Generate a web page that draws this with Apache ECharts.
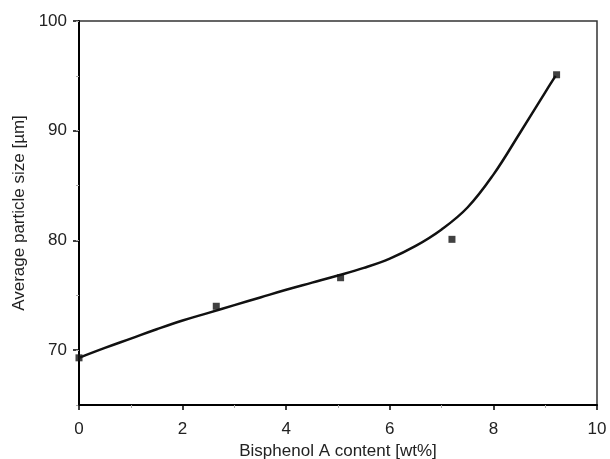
<!DOCTYPE html>
<html>
<head>
<meta charset="utf-8">
<script src="https://cdn.jsdelivr.net/npm/echarts@6/dist/echarts.min.js"></script>
<style>
  html, body { margin: 0; padding: 0; background: #fff; }
  #chart { width: 610px; height: 459px; }
</style>
</head>
<body>
<div id="chart"></div>
<script>
  // measured points (squares)
  const pointX = [0, 2.65, 5.05, 7.2, 9.22]
  const pointY = [69.3, 74.0, 76.6, 80.1, 95.1]
  // fitted curve
  const curveX = [0, 0.5, 1, 1.5, 2, 2.5, 3, 3.5, 4, 4.5, 5, 5.5, 6, 6.5, 7, 7.5, 8, 8.5, 9, 9.2]
  const curveY = [69.3, 70.2, 71.05, 71.9, 72.7, 73.4, 74.1, 74.8, 75.5, 76.15, 76.8, 77.5, 78.35, 79.5, 81.0, 83.0, 86.0, 89.7, 93.5, 95.0]
  const yTicks = [70, 80, 90, 100]

  const font = 'Liberation Sans'
  const chart = echarts.init(document.getElementById('chart'))

  chart.setOption({
    animation: false,
    grid: {
      left: 79, right: 13, top: 21, bottom: 54,
      outerBoundsMode: 'none',
      show: true,
      borderColor: '#333',
      borderWidth: 1.5
    },
    xAxis: {
      type: 'value',
      min: 0,
      max: 10,
      interval: 2,
      name: 'Bisphenol A content [wt%]',
      nameLocation: 'middle',
      nameGap: 37,
      nameTextStyle: { fontFamily: font, fontSize: 17, color: '#222' },
      axisLine: { lineStyle: { color: '#000', width: 2 } },
      axisTick: { length: 5, lineStyle: { color: '#000', width: 1.5 } },
      minorTick: { show: true, splitNumber: 2, length: 3, lineStyle: { color: '#aaa' } },
      axisLabel: { fontFamily: font, fontSize: 17, color: '#222', margin: 16 },
      splitLine: { show: false }
    },
    yAxis: [
      {
        type: 'value',
        min: 65,
        max: 100,
        interval: 5,
        name: 'Average particle size [µm]',
        nameLocation: 'middle',
        nameGap: 43,
        nameTextStyle: { fontFamily: font, fontSize: 17, color: '#222' },
        axisLine: { lineStyle: { color: '#000', width: 2 } },
        axisTick: { customValues: yTicks, length: 6, lineStyle: { color: '#000', width: 1.5 } },
        axisLabel: { customValues: yTicks, fontFamily: font, fontSize: 17, color: '#222', margin: 12 },
        splitLine: { show: false }
      },
      {
        type: 'value',
        min: 65,
        max: 100,
        interval: 5,
        position: 'left',
        axisLine: { show: false },
        axisTick: { length: 3, lineStyle: { color: '#aaa' } },
        axisLabel: { show: false },
        splitLine: { show: false }
      }
    ],
    series: [
      {
        name: 'fit',
        type: 'line',
        smooth: 0.4,
        showSymbol: false,
        data: curveX.map((x, i) => [x, curveY[i]]),
        lineStyle: { color: '#111', width: 2.5 },
        z: 2
      },
      {
        name: 'data',
        type: 'scatter',
        symbol: 'rect',
        symbolSize: 7,
        data: pointX.map((x, i) => [x, pointY[i]]),
        itemStyle: { color: '#111' },
        z: 3
      }
    ]
  })
</script>
</body>
</html>
